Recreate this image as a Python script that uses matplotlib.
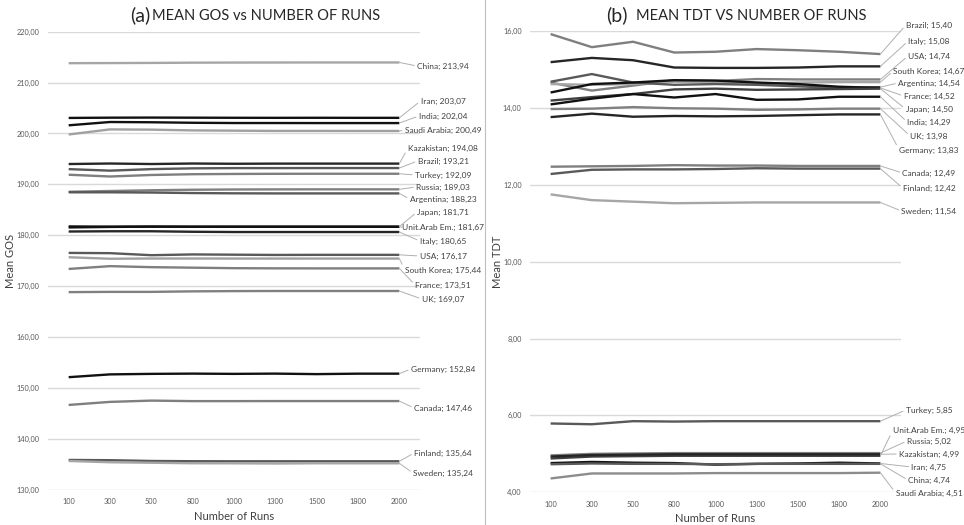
import matplotlib
matplotlib.use("Agg")
import matplotlib.pyplot as plt
from matplotlib.ticker import FuncFormatter

plt.rcParams['font.family'] = ['Lato', 'DejaVu Sans']

runs = ['100', '300', '500', '800', '1000', '1300', '1500', '1800', '2000']

# (a) mean GOS per country
gos_countries = ['China', 'Iran', 'India', 'Saudi Arabia', 'Kazakistan', 'Brazil', 'Turkey',
                 'Russia', 'Argentina', 'Japan', 'Unit.Arab Em.', 'Italy', 'USA', 'South Korea',
                 'France', 'UK', 'Germany', 'Canada', 'Finland', 'Sweden']
gos_values = [
    [213.80, 213.82, 213.85, 213.90, 213.92, 213.93, 213.94, 213.94, 213.94],
    [203.05, 203.10, 203.12, 203.10, 203.08, 203.07, 203.08, 203.07, 203.07],
    [201.60, 202.25, 202.20, 202.10, 202.05, 202.05, 202.04, 202.04, 202.04],
    [199.80, 200.80, 200.75, 200.60, 200.55, 200.50, 200.50, 200.49, 200.49],
    [194.00, 194.10, 194.00, 194.10, 194.05, 194.08, 194.08, 194.08, 194.08],
    [193.00, 192.70, 193.00, 193.15, 193.20, 193.20, 193.21, 193.21, 193.21],
    [191.90, 191.55, 191.85, 192.00, 192.05, 192.08, 192.09, 192.09, 192.09],
    [188.55, 188.70, 188.85, 188.95, 189.00, 189.02, 189.03, 189.03, 189.03],
    [188.45, 188.45, 188.40, 188.30, 188.25, 188.23, 188.23, 188.23, 188.23],
    [181.75, 181.70, 181.72, 181.70, 181.71, 181.71, 181.71, 181.71, 181.71],
    [181.55, 181.65, 181.70, 181.68, 181.67, 181.67, 181.67, 181.67, 181.67],
    [180.75, 180.80, 180.80, 180.70, 180.65, 180.65, 180.65, 180.65, 180.65],
    [176.55, 176.50, 176.10, 176.25, 176.20, 176.15, 176.17, 176.17, 176.17],
    [175.70, 175.40, 175.45, 175.45, 175.44, 175.44, 175.44, 175.44, 175.44],
    [173.40, 173.95, 173.75, 173.65, 173.55, 173.52, 173.51, 173.51, 173.51],
    [168.85, 168.90, 168.90, 169.00, 169.05, 169.07, 169.07, 169.07, 169.07],
    [152.15, 152.70, 152.80, 152.85, 152.80, 152.85, 152.75, 152.84, 152.84],
    [146.70, 147.30, 147.55, 147.45, 147.45, 147.46, 147.46, 147.46, 147.46],
    [135.90, 135.85, 135.70, 135.65, 135.64, 135.64, 135.64, 135.64, 135.64],
    [135.70, 135.45, 135.35, 135.25, 135.24, 135.20, 135.25, 135.24, 135.24],
]

# (b) mean TDT per country
tdt_countries = ['Brazil', 'Italy', 'USA', 'South Korea', 'Argentina', 'France', 'Japan',
                 'India', 'UK', 'Germany', 'Canada', 'Finland', 'Sweden', 'Turkey',
                 'Unit.Arab Em.', 'Russia', 'Kazakistan', 'Iran', 'China', 'Saudi Arabia']
tdt_values = [
    [15.92, 15.58, 15.72, 15.44, 15.46, 15.53, 15.50, 15.46, 15.40],
    [15.19, 15.30, 15.24, 15.05, 15.04, 15.04, 15.05, 15.08, 15.08],
    [14.66, 14.45, 14.58, 14.72, 14.70, 14.75, 14.74, 14.74, 14.74],
    [14.62, 14.60, 14.62, 14.68, 14.67, 14.63, 14.66, 14.67, 14.67],
    [14.68, 14.88, 14.66, 14.60, 14.62, 14.60, 14.56, 14.52, 14.54],
    [14.40, 14.62, 14.66, 14.72, 14.71, 14.66, 14.62, 14.55, 14.52],
    [14.19, 14.28, 14.36, 14.48, 14.50, 14.47, 14.48, 14.49, 14.50],
    [14.09, 14.24, 14.36, 14.27, 14.36, 14.21, 14.22, 14.29, 14.29],
    [13.97, 13.98, 14.02, 13.99, 13.98, 13.95, 13.96, 13.98, 13.98],
    [13.76, 13.85, 13.77, 13.79, 13.78, 13.79, 13.81, 13.83, 13.83],
    [12.47, 12.48, 12.49, 12.51, 12.50, 12.50, 12.49, 12.49, 12.49],
    [12.28, 12.39, 12.40, 12.40, 12.41, 12.43, 12.42, 12.42, 12.42],
    [11.75, 11.60, 11.56, 11.52, 11.53, 11.54, 11.54, 11.54, 11.54],
    [5.79, 5.77, 5.85, 5.84, 5.85, 5.85, 5.85, 5.85, 5.85],
    [4.88, 4.93, 4.94, 4.95, 4.95, 4.95, 4.95, 4.95, 4.95],
    [4.96, 5.00, 5.01, 5.02, 5.02, 5.02, 5.02, 5.02, 5.02],
    [4.93, 4.97, 4.98, 4.99, 4.99, 4.99, 4.99, 4.99, 4.99],
    [4.76, 4.79, 4.77, 4.76, 4.72, 4.74, 4.75, 4.77, 4.75],
    [4.73, 4.75, 4.74, 4.74, 4.73, 4.74, 4.74, 4.74, 4.74],
    [4.36, 4.49, 4.49, 4.49, 4.50, 4.50, 4.50, 4.50, 4.51],
]

# styling / layout
gos_colors = ['#a6a6a6', '#111111', '#111111', '#a0a0a0', '#262626', '#595959', '#7f7f7f',
              '#808080', '#595959', '#111111', '#111111', '#262626', '#595959', '#a0a0a0',
              '#7f7f7f', '#808080', '#111111', '#7f7f7f', '#595959', '#a6a6a6']
tdt_colors = ['#7f7f7f', '#262626', '#808080', '#a6a6a6', '#595959', '#111111', '#404040',
              '#111111', '#808080', '#262626', '#7f7f7f', '#595959', '#a6a6a6', '#595959',
              '#404040', '#808080', '#262626', '#111111', '#595959', '#8c8c8c']
gos_label_y = [66, 101, 116, 130, 148, 161, 175, 187, 199, 212, 227, 241, 256, 270, 285, 299,
               369, 408, 453, 473]
tdt_label_y = [25, 41, 56, 71, 83, 96, 109, 122, 136, 150, 173, 188, 211, 410, 430, 441, 454,
               467, 480, 493]

W, H = 964, 525
comma = FuncFormatter(lambda v, p: f"{v:.2f}".replace('.', ','))

fig = plt.figure(figsize=(W / 100, H / 100), dpi=100)
ax1 = fig.add_axes([48 / W, 1 - 490 / H, 372 / W, 458.4 / H])
ax2 = fig.add_axes([530 / W, 1 - 492.3 / H, 371 / W, 461.3 / H])


def draw_panel(ax, countries, values, colors, label_y, label_x, ylim, yticks, ylabel, ylab_x):
    x = list(range(len(runs)))
    for name, vals, col, ly in zip(countries, values, colors, label_y):
        ax.plot(x, vals, color=col, lw=1.7, solid_capstyle='butt')
        txt = f"{name}; " + f"{vals[-1]:.2f}".replace('.', ',')
        ax.annotate(txt, xy=(x[-1], vals[-1]), xytext=(label_x / W, 1 - ly / H),
                    textcoords='figure fraction', ha='center', va='center',
                    fontsize=6, color='#404040', annotation_clip=False,
                    arrowprops=dict(arrowstyle='-', color='#b0b0b0', lw=0.7,
                                    relpos=(0, 0.5), shrinkA=0, shrinkB=0))
    ax.set_xlim(-0.5, len(runs) - 0.5)
    ax.set_ylim(*ylim)
    ax.set_yticks(yticks)
    ax.yaxis.set_major_formatter(comma)
    ax.set_xticks(x)
    ax.set_xticklabels(runs)
    ax.tick_params(length=0, labelsize=5.3, labelcolor='#595959', pad=6)
    ax.grid(axis='y', color='#d9d9d9', lw=1)
    ax.set_axisbelow(True)
    for s in ax.spines.values():
        s.set_visible(False)
    ax.set_xlabel('Number of Runs', fontsize=8, color='#404040', labelpad=4)
    ax.set_ylabel(ylabel, fontsize=8, color='#404040')
    ax.yaxis.set_label_coords(ylab_x, 0.5)


draw_panel(ax1, gos_countries, gos_values, gos_colors, gos_label_y, 443,
           (130, 220), range(130, 221, 10), 'Mean GOS', -0.085)
draw_panel(ax2, tdt_countries, tdt_values, tdt_colors, tdt_label_y, 929,
           (4, 16), range(4, 17, 2), 'Mean TDT', -0.072)

# titles
fig.text(130 / W, 1 - 15 / H, '(a)', fontsize=14, color='#262626', va='center', ha='left')
fig.text(152 / W, 1 - 16 / H, 'MEAN GOS vs NUMBER OF RUNS', fontsize=10.5, color='#262626',
         va='center', ha='left')
fig.text(606 / W, 1 - 15 / H, '(b)', fontsize=14, color='#262626', va='center', ha='left')
fig.text(636 / W, 1 - 16 / H, 'MEAN TDT VS NUMBER OF RUNS', fontsize=10.5, color='#262626',
         va='center', ha='left')

# separator between panels
fig.add_artist(plt.Line2D([485 / W, 485 / W], [0, 1], color='#bfbfbf', lw=0.8))

fig.savefig('out.png', dpi=100, facecolor='white')
